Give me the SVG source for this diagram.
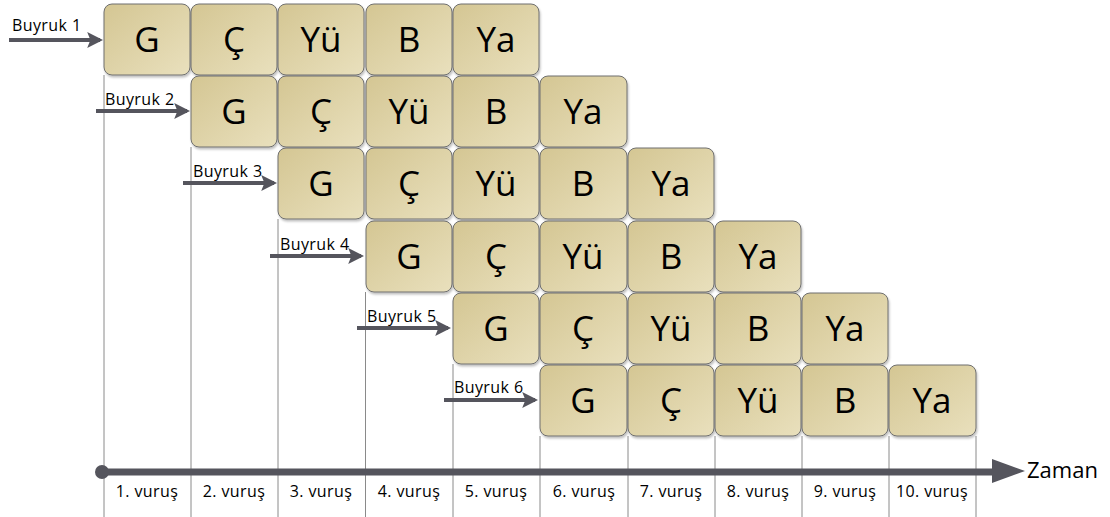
<svg xmlns="http://www.w3.org/2000/svg" width="1110" height="517" viewBox="0 0 1110 517">
<defs>
<linearGradient id="bg" x1="0" y1="0" x2="1" y2="1">
<stop offset="0" stop-color="#d4c693"/>
<stop offset="1" stop-color="#e9e0bd"/>
</linearGradient>
<marker id="ah" markerWidth="4" markerHeight="4" refX="3.2" refY="2" orient="auto" markerUnits="strokeWidth">
<path d="M0,0 L4,2 L0,4 L0.8,2 Z" fill="#55555d"/>
</marker>
<filter id="sh" x="-10%" y="-10%" width="130%" height="130%">
<feDropShadow dx="1" dy="2" stdDeviation="1.2" flood-color="#000" flood-opacity="0.25"/>
</filter>
</defs>
<style>
.box{fill:url(#bg);stroke:#6f6f6f;stroke-width:1;filter:url(#sh)}
.bt{font-family:"Open Sans","DejaVu Sans",sans-serif;font-size:35px;fill:#000;text-anchor:middle}
.lbl{font-family:"Open Sans","DejaVu Sans",sans-serif;font-size:16px;letter-spacing:0.4px;fill:#000}
.vl{stroke:#8a8a8a;stroke-width:1}
.arr{stroke:#55555d;stroke-width:4;fill:none;marker-end:url(#ah)}
.vur{font-family:"Open Sans","DejaVu Sans",sans-serif;font-size:16px;letter-spacing:0.4px;fill:#000;text-anchor:middle}
</style>
<g id="gridlines">
<line class="vl" x1="104" y1="75" x2="104" y2="517"/>
<line class="vl" x1="191" y1="147" x2="191" y2="517"/>
<line class="vl" x1="278" y1="219" x2="278" y2="517"/>
<line class="vl" x1="365.5" y1="292" x2="365.5" y2="517"/>
<line class="vl" x1="453" y1="364" x2="453" y2="517"/>
<line class="vl" x1="540" y1="436" x2="540" y2="517"/>
<line class="vl" x1="628" y1="436" x2="628" y2="517"/>
<line class="vl" x1="715" y1="436" x2="715" y2="517"/>
<line class="vl" x1="802" y1="436" x2="802" y2="517"/>
<line class="vl" x1="889" y1="436" x2="889" y2="517"/>
<line class="vl" x1="976" y1="436" x2="976" y2="517"/>
</g>
<g id="row1">
<rect class="box" x="104" y="4" width="86" height="71" rx="8"/><text class="bt" x="147" y="52">G</text>
<rect class="box" x="191" y="4" width="86" height="71" rx="8"/><text class="bt" x="234" y="52">Ç</text>
<rect class="box" x="278" y="4" width="86" height="71" rx="8"/><text class="bt" x="321" y="52">Yü</text>
<rect class="box" x="366" y="4" width="86" height="71" rx="8"/><text class="bt" x="409" y="52">B</text>
<rect class="box" x="453" y="4" width="86" height="71" rx="8"/><text class="bt" x="496" y="52">Ya</text>
</g>
<g id="row2">
<rect class="box" x="191" y="76" width="86" height="71" rx="8"/><text class="bt" x="234" y="124">G</text>
<rect class="box" x="278" y="76" width="86" height="71" rx="8"/><text class="bt" x="321" y="124">Ç</text>
<rect class="box" x="366" y="76" width="86" height="71" rx="8"/><text class="bt" x="409" y="124">Yü</text>
<rect class="box" x="453" y="76" width="86" height="71" rx="8"/><text class="bt" x="496" y="124">B</text>
<rect class="box" x="540" y="76" width="87" height="71" rx="8"/><text class="bt" x="583" y="124">Ya</text>
</g>
<g id="row3">
<rect class="box" x="278" y="148" width="86" height="71" rx="8"/><text class="bt" x="321" y="196">G</text>
<rect class="box" x="366" y="148" width="86" height="71" rx="8"/><text class="bt" x="409" y="196">Ç</text>
<rect class="box" x="453" y="148" width="86" height="71" rx="8"/><text class="bt" x="496" y="196">Yü</text>
<rect class="box" x="540" y="148" width="87" height="71" rx="8"/><text class="bt" x="583" y="196">B</text>
<rect class="box" x="628" y="148" width="86" height="71" rx="8"/><text class="bt" x="671" y="196">Ya</text>
</g>
<g id="row4">
<rect class="box" x="366" y="221" width="86" height="71" rx="8"/><text class="bt" x="409" y="269">G</text>
<rect class="box" x="453" y="221" width="86" height="71" rx="8"/><text class="bt" x="496" y="269">Ç</text>
<rect class="box" x="540" y="221" width="87" height="71" rx="8"/><text class="bt" x="583" y="269">Yü</text>
<rect class="box" x="628" y="221" width="86" height="71" rx="8"/><text class="bt" x="671" y="269">B</text>
<rect class="box" x="715" y="221" width="86" height="71" rx="8"/><text class="bt" x="758" y="269">Ya</text>
</g>
<g id="row5">
<rect class="box" x="453" y="293" width="86" height="71" rx="8"/><text class="bt" x="496" y="341">G</text>
<rect class="box" x="540" y="293" width="87" height="71" rx="8"/><text class="bt" x="583" y="341">Ç</text>
<rect class="box" x="628" y="293" width="86" height="71" rx="8"/><text class="bt" x="671" y="341">Yü</text>
<rect class="box" x="715" y="293" width="86" height="71" rx="8"/><text class="bt" x="758" y="341">B</text>
<rect class="box" x="802" y="293" width="86" height="71" rx="8"/><text class="bt" x="845" y="341">Ya</text>
</g>
<g id="row6">
<rect class="box" x="540" y="365" width="87" height="71" rx="8"/><text class="bt" x="583" y="413">G</text>
<rect class="box" x="628" y="365" width="86" height="71" rx="8"/><text class="bt" x="671" y="413">Ç</text>
<rect class="box" x="715" y="365" width="86" height="71" rx="8"/><text class="bt" x="758" y="413">Yü</text>
<rect class="box" x="802" y="365" width="86" height="71" rx="8"/><text class="bt" x="845" y="413">B</text>
<rect class="box" x="889" y="365" width="87" height="71" rx="8"/><text class="bt" x="932" y="413">Ya</text>
</g>
<g id="connectors">
<line class="arr" x1="9" y1="40" x2="100" y2="40"/>
<line class="arr" x1="96" y1="111" x2="187" y2="111"/>
<line class="arr" x1="183" y1="183" x2="274" y2="183"/>
<line class="arr" x1="270" y1="256" x2="361" y2="256"/>
<line class="arr" x1="357" y1="328" x2="448" y2="328"/>
<line class="arr" x1="444" y1="400" x2="535" y2="400"/>
<circle cx="102" cy="472" r="7" fill="#55555d"/>
<line x1="102" y1="472" x2="994" y2="472" stroke="#55555d" stroke-width="7"/>
<path d="M992,459 L1025,471 L992,483 Z" fill="#55555d"/>
</g>
<g id="labels">
<text class="lbl" x="12" y="31">Buyruk 1</text>
<text class="lbl" x="105" y="105">Buyruk 2</text>
<text class="lbl" x="193" y="177">Buyruk 3</text>
<text class="lbl" x="280" y="250">Buyruk 4</text>
<text class="lbl" x="367" y="322">Buyruk 5</text>
<text class="lbl" x="454" y="393">Buyruk 6</text>
<text x="1027" y="478" font-family="Open Sans, DejaVu Sans, sans-serif" font-size="22" fill="#000">Zaman</text>
<text class="vur" x="147" y="497">1. vuruş</text>
<text class="vur" x="234" y="497">2. vuruş</text>
<text class="vur" x="321" y="497">3. vuruş</text>
<text class="vur" x="409" y="497">4. vuruş</text>
<text class="vur" x="496" y="497">5. vuruş</text>
<text class="vur" x="584" y="497">6. vuruş</text>
<text class="vur" x="671" y="497">7. vuruş</text>
<text class="vur" x="758" y="497">8. vuruş</text>
<text class="vur" x="845" y="497">9. vuruş</text>
<text class="vur" x="932" y="497">10. vuruş</text>
</g>
</svg>
